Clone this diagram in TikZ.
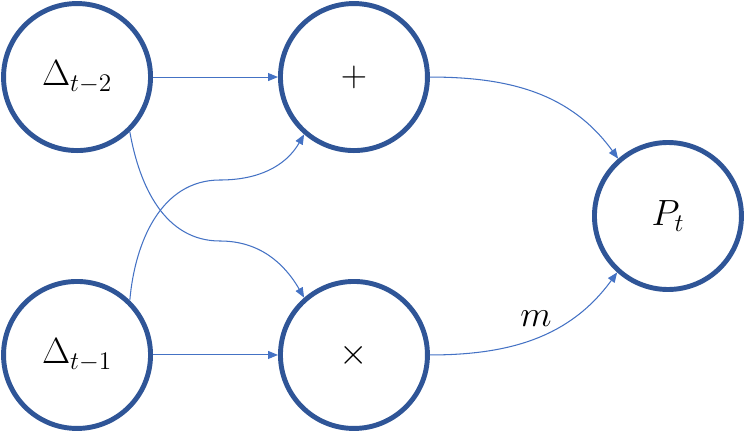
\documentclass[tikz,border=0pt]{standalone}
\usepackage{amssymb}
\usepackage{tikz}
\usetikzlibrary{calc,arrows.meta}
\definecolor{ringblue}{HTML}{2F5597}
\definecolor{linkblue}{HTML}{4472C4}

\begin{document}
\begin{tikzpicture}[
    state/.style={circle, draw=ringblue, line width=2.8pt, minimum size=2.94cm, inner sep=0pt, fill=white, font=\fontsize{22}{26}\selectfont},
    link/.style={draw=linkblue, line width=0.6pt, -{Triangle[length=2mm,width=1.6mm]}}]
      \useasboundingbox (0,0) rectangle (14.92,8.68);
      \matrix [row sep=2.52cm, column sep=2.5cm, nodes={state}] at (4.31,4.36)
      {
      \node (d2) {$\Delta_{t-2}$}; & \node (plus) {$+$};\\
      \node (d1) {$\Delta_{t-1}$}; & \node (times) {$\times$};\\
      };
      \node[state] (pt) at ($(plus)!0.5!(times)+(6.28,0)$) {$P_t$};

      \coordinate (dip) at (4.4,3.86);
      \coordinate (hump) at (4.4,5.08);

      \draw [link] (d2) -- (plus);
      \draw [link] (d1) -- (times);
      \draw [link] (d2.-46) to[out=-80,in=180] (dip) to[out=0,in=120] (times.131);
      \draw [link] (d1.46) to[out=85,in=180] (hump) to[out=0,in=-120] (plus.-131);
      \draw [link] (plus) to[out=0,in=126] (pt.131);
      \draw [link] (times) to[out=0,in=-126] node[pos=0.5,above=1mm,font=\fontsize{22}{26}\selectfont] {$m$} (pt.-132);
\end{tikzpicture}
\end{document}
